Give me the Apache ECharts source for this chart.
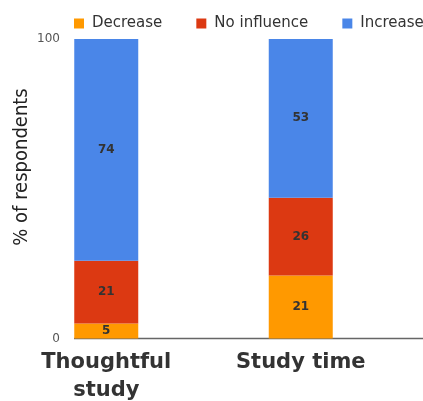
<!DOCTYPE html>
<html><head><meta charset="utf-8">
<script src="https://cdn.jsdelivr.net/npm/echarts@6/dist/echarts.min.js"></script>
<style>html,body{margin:0;padding:0;background:#fff}#c{width:423px;height:401px}</style>
</head><body><div id="c"></div>
<script>
const categories = ['Thoughtful\nstudy', 'Study time'];
const decrease = [5, 21];
const noInfluence = [21, 26];
const increase = [74, 53];
const yTicks = [0, 100];

const chart = echarts.init(document.getElementById('c'), null, {renderer: 'canvas'});
const lbl = {show: true, position: 'inside', color: '#333', fontFamily: 'DejaVu Sans', fontWeight: 'bold', fontSize: 12};
function mk(name, data, color) {
  return {name, type: 'bar', stack: 'a', data, barWidth: 64, itemStyle: {color}, label: lbl};
}
chart.setOption({
  animation: false,
  color: ['#ff9900', '#dc3912', '#4a86e8'],
  legend: {
    left: 74, top: 16, width: 600, padding: 0, itemWidth: 10, itemHeight: 10, itemGap: 34, icon: 'rect',
    textStyle: {fontFamily: 'DejaVu Sans', fontSize: 15, color: '#333', padding: [0, 0, 0, 3]},
    data: ['Decrease', 'No influence', 'Increase']
  },
  grid: {left: 9, right: 25, top: 39, bottom: 62.5, containLabel: false, outerBoundsMode: 'none'},
  xAxis: {
    type: 'category', data: categories,
    axisLine: {show: false}, axisTick: {show: false},
    axisLabel: {margin: 10, fontFamily: 'DejaVu Sans', fontWeight: 'bold', fontSize: 21, color: '#333', lineHeight: 28, interval: 0}
  },
  yAxis: {
    type: 'value', min: yTicks[0], max: yTicks[1], interval: 100, offset: -65,
    axisLine: {show: false}, axisTick: {show: false}, splitLine: {show: false},
    axisLabel: {margin: 14, fontFamily: 'DejaVu Sans', fontSize: 12, color: '#555'}
  },
  graphic: [
    {type: 'line', shape: {x1: 74, y1: 338.5, x2: 423, y2: 338.5}, style: {stroke: '#666', lineWidth: 1.5}},
    {type: 'text', x: 22, y: 167, rotation: Math.PI / 2,
     style: {text: '% of respondents', fill: '#222', font: '20px "DejaVu Sans Condensed"', align: 'center', verticalAlign: 'middle'}}
  ],
  series: [
    mk('Decrease', decrease, '#ff9900'),
    mk('No influence', noInfluence, '#dc3912'),
    mk('Increase', increase, '#4a86e8')
  ]
});
</script></body></html>
